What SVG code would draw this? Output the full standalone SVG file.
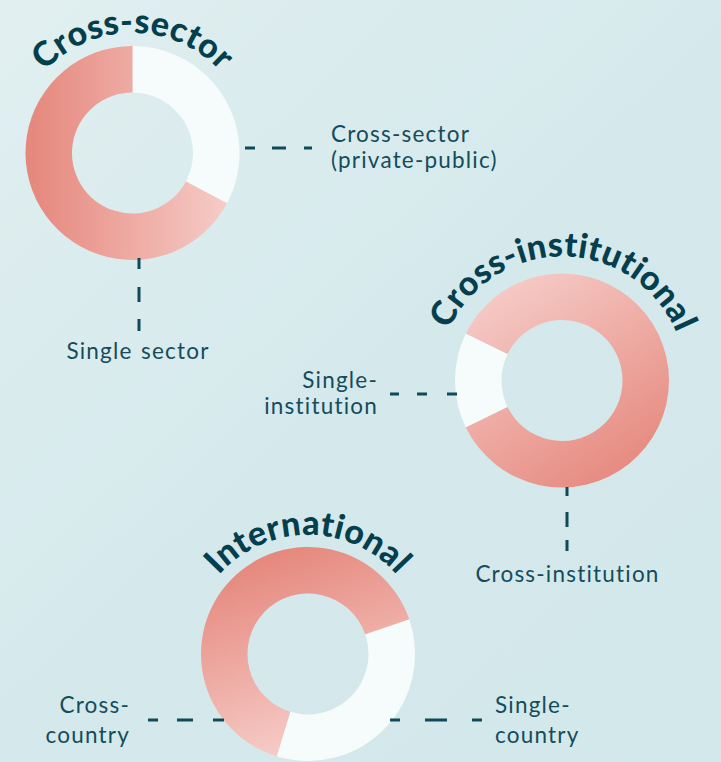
<svg xmlns="http://www.w3.org/2000/svg" width="721" height="762" viewBox="0 0 721 762">
  <defs>
    <linearGradient id="bg" x1="0" y1="0" x2="721" y2="762" gradientUnits="userSpaceOnUse">
      <stop offset="0" stop-color="#e1eff0"/>
      <stop offset="0.5" stop-color="#d5e9ec"/>
      <stop offset="1" stop-color="#d3e8eb"/>
    </linearGradient>
    <linearGradient id="g1" x1="25" y1="153" x2="240" y2="153" gradientUnits="userSpaceOnUse">
      <stop offset="0" stop-color="#e5867b"/>
      <stop offset="1" stop-color="#f7d0cc"/>
    </linearGradient>
    <linearGradient id="g2" x1="500" y1="275" x2="635" y2="485" gradientUnits="userSpaceOnUse">
      <stop offset="0" stop-color="#f6cdc9"/>
      <stop offset="1" stop-color="#e5867b"/>
    </linearGradient>
    <linearGradient id="g3" x1="250" y1="555" x2="320" y2="755" gradientUnits="userSpaceOnUse">
      <stop offset="0" stop-color="#e5867b"/>
      <stop offset="1" stop-color="#f7d0cc"/>
    </linearGradient>
    <path id="arc1" d="M12.5,153 A120,120 0 0 1 252.5,153"/>
    <path id="arc2" d="M438,380.5 A124,124 0 0 1 686,380.5"/>
    <path id="arc3" d="M189,654 A119,119 0 0 1 427,654"/>
  </defs>
  <style>
    .white { fill: #f6fbfb; }
    .title { font-family: "Lato", "Inter", "Liberation Sans", sans-serif; font-weight: 900; font-size: 34px; letter-spacing: 0.4px; fill: #053f4e; font-variant-ligatures: none; }
    .label { font-family: "Lato", "Noto Sans", "Liberation Sans", sans-serif; font-size: 22.5px; letter-spacing: 1.2px; word-spacing: 1.5px; fill: #144c5b; font-variant-ligatures: none; }
    .dash { stroke: #0e4a5a; stroke-width: 3; fill: none; }
  </style>
  <rect width="721" height="762" fill="url(#bg)"/>

  <g id="cross-sector">
    <path class="white" d="M132.5,46 A107,107 0 0 1 226.97,203.24 L185.92,181.40 A60.5,60.5 0 0 0 132.5,92.5 Z"/>
    <path fill="url(#g1)" d="M226.97,203.24 A107,107 0 1 1 132.5,46 L132.5,92.5 A60.5,60.5 0 1 0 185.92,181.40 Z"/>
    <text class="title"><textPath href="#arc1" startOffset="50%" text-anchor="middle">Cross-sector</textPath></text>
  </g>

  <g id="cross-institutional">
    <path class="white" d="M465.83,427.41 A107,107 0 0 1 465.83,333.59 L507.62,353.98 A60.5,60.5 0 0 0 507.62,407.02 Z"/>
    <path fill="url(#g2)" d="M465.83,333.59 A107,107 0 1 1 465.83,427.41 L507.62,407.02 A60.5,60.5 0 1 0 507.62,353.98 Z"/>
    <text class="title"><textPath href="#arc2" startOffset="50.5%" text-anchor="middle">Cross-institutional</textPath></text>
  </g>

  <g id="international">
    <path class="white" d="M409.17,619.16 A107,107 0 0 1 276.71,756.32 L290.31,711.86 A60.5,60.5 0 0 0 365.20,634.30 Z"/>
    <path fill="url(#g3)" d="M276.71,756.32 A107,107 0 1 1 409.17,619.16 L365.20,634.30 A60.5,60.5 0 1 0 290.31,711.86 Z"/>
    <text class="title"><textPath href="#arc3" startOffset="50%" text-anchor="middle">International</textPath></text>
  </g>

  <g id="connectors">
    <line class="dash" x1="245" y1="148" x2="312" y2="148" stroke-dasharray="10 17 14 18 8"/>
    <line class="dash" x1="139" y1="258" x2="139" y2="331" stroke-dasharray="11 18 15 17 12"/>
    <line class="dash" x1="390" y1="394" x2="457" y2="394" stroke-dasharray="9 18 10 20 10"/>
    <line class="dash" x1="567" y1="487" x2="567" y2="551" stroke-dasharray="9 16 15 13 11"/>
    <line class="dash" x1="148" y1="720" x2="224" y2="720" stroke-dasharray="10 19 16 20 11"/>
    <line class="dash" x1="390" y1="720" x2="482" y2="720" stroke-dasharray="10 25 22 25 10"/>
  </g>

  <g id="labels">
    <g id="label-cross-sector">
      <text class="label" x="331" y="142">Cross-sector</text>
      <text class="label" x="331" y="168">(private-public)</text>
    </g>
    <g id="label-single-sector">
      <text class="label" x="138" y="359" text-anchor="middle">Single sector</text>
    </g>
    <g id="label-single-institution">
      <text class="label" x="378" y="388" text-anchor="end">Single-</text>
      <text class="label" x="378" y="414" text-anchor="end">institution</text>
    </g>
    <g id="label-cross-institution">
      <text class="label" x="567.5" y="582" text-anchor="middle">Cross-institution</text>
    </g>
    <g id="label-cross-country">
      <text class="label" x="130" y="713" text-anchor="end">Cross-</text>
      <text class="label" x="130" y="743" text-anchor="end">country</text>
    </g>
    <g id="label-single-country">
      <text class="label" x="495" y="713">Single-</text>
      <text class="label" x="495" y="743">country</text>
    </g>
  </g>
</svg>
